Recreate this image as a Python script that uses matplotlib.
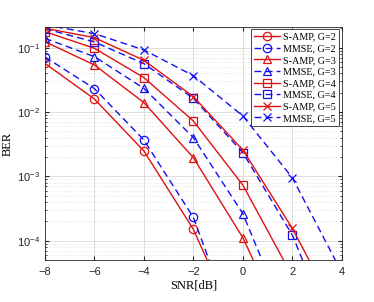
import numpy as np
import matplotlib.pyplot as plt
from matplotlib.ticker import FixedLocator, FuncFormatter

# SNR axis and BER values
snr = [-8, -6, -4, -2, 0, 2, 4]

samp_g2 = [0.057, 0.0159, 0.00248, 1.5e-4, 2.9e-6]
mmse_g2 = [0.0716, 0.0231, 0.00367, 2.3e-4, 1.9e-6]
samp_g3 = [0.124, 0.0538, 0.014, 0.00195, 1.11e-4, 2.5e-6]
mmse_g3 = [0.1396, 0.0724, 0.0233, 0.0040, 2.63e-4, 3.6e-6]
samp_g4 = [0.177, 0.0977, 0.0342, 0.00724, 7.3e-4, 2.8e-5]
mmse_g4 = [0.197, 0.1225, 0.0564, 0.0163, 0.00233, 1.22e-4, 1.6e-6]
samp_g5 = [0.20, 0.143, 0.0635, 0.0173, 0.00257, 1.55e-4, 5.4e-6]
mmse_g5 = [0.225, 0.165, 0.092, 0.0367, 0.00867, 9.5e-4, 3.2e-5]

labels = ['S-AMP, G=2', 'MMSE, G=2', 'S-AMP, G=3', 'MMSE, G=3',
          'S-AMP, G=4', 'MMSE, G=4', 'S-AMP, G=5', 'MMSE, G=5']
series = [samp_g2, mmse_g2, samp_g3, mmse_g3, samp_g4, mmse_g4, samp_g5, mmse_g5]
markers = ['o', 'o', '^', '^', 's', 's', 'x', 'x']

red = '#e01010'
blue = '#1010f0'

plt.rcParams['font.family'] = 'Liberation Sans'
plt.rcParams['mathtext.fontset'] = 'custom'
plt.rcParams['mathtext.rm'] = 'Liberation Sans'

fig = plt.figure(figsize=(3.74, 3.02), dpi=100)
ax = fig.add_axes([0.12, 0.139, 0.794, 0.772])

for i, (y, lab, m) in enumerate(zip(series, labels, markers)):
    x = snr[:len(y)]
    if i % 2 == 0:
        ax.semilogy(x, y, color=red, linestyle='-', linewidth=1.0, marker=m,
                    markersize=6, markerfacecolor='none', markeredgewidth=0.9,
                    label=lab)
    else:
        ax.semilogy(x, y, color=blue, linestyle=(0, (5, 3)), linewidth=1.0,
                    marker=m, markersize=6, markerfacecolor='none',
                    markeredgewidth=0.9, label=lab)

ax.set_xlim(-8, 4)
ax.set_ylim(5e-5, 0.21)
ax.set_xticks([-8, -6, -4, -2, 0, 2, 4])
ax.yaxis.set_major_locator(FixedLocator([1e-4, 1e-3, 1e-2, 1e-1]))
ax.yaxis.set_major_formatter(FuncFormatter(
    lambda v, p: r'$\mathregular{10^{%d}}$' % int(round(np.log10(v)))))

ax.grid(True, which='major', color='#d8d8d8', linewidth=0.6)
ax.grid(True, which='minor', color='#d8d8d8', linewidth=0.5, linestyle=':')
ax.set_axisbelow(True)

ax.tick_params(which='both', direction='in', top=True, right=True,
               labelsize=8, colors='#262626')
ax.tick_params(axis='x', pad=5)
ax.tick_params(which='major', length=3)
ax.tick_params(which='minor', length=1.5)
for s in ax.spines.values():
    s.set_color('#262626')
    s.set_linewidth(0.6)

ax.set_xlabel('SNR[dB]', fontfamily='Liberation Serif', fontsize=9, labelpad=2)
ax.set_ylabel('BER', fontfamily='Liberation Serif', fontsize=9, labelpad=2)

leg = ax.legend(loc='upper right', prop={'family': 'Liberation Serif', 'size': 7.3},
                fancybox=False, framealpha=1, edgecolor='#262626',
                handlelength=2.6, borderpad=0.3, labelspacing=0.25,
                handletextpad=0.3, borderaxespad=0.25)
leg.get_frame().set_linewidth(0.6)

fig.savefig('out.png', dpi=100)
